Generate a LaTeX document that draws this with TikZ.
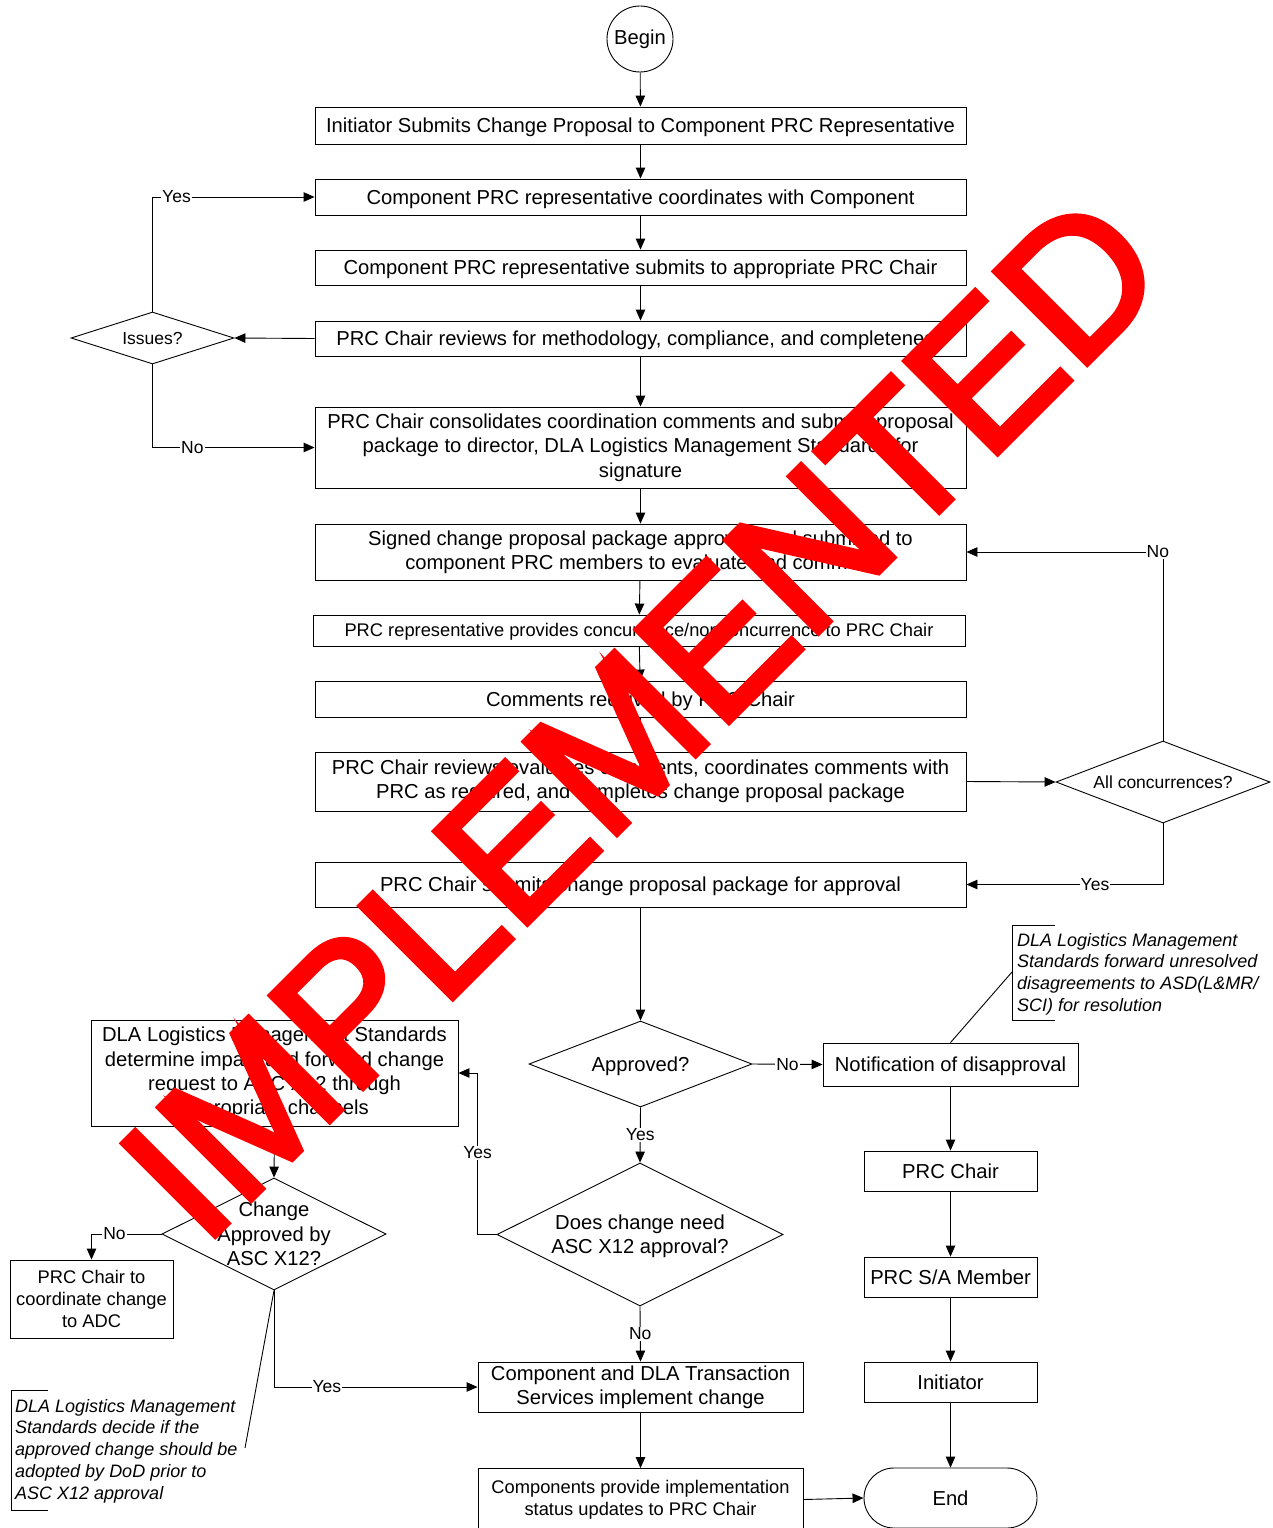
\documentclass[tikz,border=0pt]{standalone}
\usepackage{fontspec}
\setmainfont{Liberation Sans}
\newfontfamily\wmfam{Liberation Sans}[FakeBold=3]
\usetikzlibrary{shapes.geometric,shapes.misc,arrows.meta}
\newcommand\fsMain{\fontsize{20.2}{24.3}\selectfont}
\newcommand\fsSmall{\fontsize{17.5}{21}\selectfont}
\newcommand\fsMid{\fontsize{18.3}{22}\selectfont}
\newcommand\fsNote{\itshape\fontsize{18}{21.7}\selectfont}
\newcommand\fsWM{\wmfam\fontsize{190}{190}\selectfont}
\begin{document}
\begin{tikzpicture}[x=1pt,y=-1pt,
  every node/.style={inner sep=0pt},
  plainbox/.style={draw,line width=0.9pt,align=center,font=\fsMain},
  box/.style={plainbox,execute at begin node={\rule{0pt}{18.7pt}}},
  midbox/.style={plainbox,font=\fsMid},
  dia/.style={draw,shape=diamond,line width=0.9pt,inner sep=0pt},
  ln/.style={line width=0.9pt},
  arr/.style={line width=0.9pt,-{Triangle[length=11pt,width=9.5pt]}},
  lab/.style={fill=white,inner sep=1pt,font=\fsSmall},
]
\fill[white] (0,0) rectangle (1273,1528);
\useasboundingbox (0,0) rectangle (1273,1528);

% main column
\node[draw,circle,line width=0.9pt,minimum size=66pt,font=\fsMain] (begin) at (640,39) {Begin};
\node[box,minimum width=651pt,minimum height=37pt] (b1) at (640.5,125.5) {Initiator Submits Change Proposal to Component PRC Representative};
\node[box,minimum width=651pt,minimum height=36pt] (b2) at (640.5,197) {Component PRC representative coordinates with Component};
\node[box,minimum width=651pt,minimum height=35pt] (b3) at (640.5,267.5) {Component PRC representative submits to appropriate PRC Chair};
\node[box,minimum width=651pt,minimum height=35pt] (b4) at (640.5,338.5) {PRC Chair reviews for methodology, compliance, and completeness};
\node[box,minimum width=651pt,minimum height=81pt] (b5) at (640.5,447.5) {PRC Chair consolidates coordination comments and submits proposal\\package to director, DLA Logistics Management Standards for\\signature};
\node[box,minimum width=651pt,minimum height=56pt] (b6) at (640.5,552) {Signed change proposal package approved and submitted to\\component PRC members to evaluate and comment};
\node[midbox,minimum width=652pt,minimum height=31pt,execute at begin node={\rule{0pt}{15pt}}] (b7) at (639,630.5) {PRC representative provides concurrence/nonconcurrence to PRC Chair};
\node[box,minimum width=651pt,minimum height=36pt] (b8) at (640.5,699) {Comments received by PRC Chair};
\node[box,minimum width=651pt,minimum height=59pt] (b9) at (640.5,781.5) {PRC Chair reviews/evaluates comments, coordinates comments with\\PRC as required, and completes change proposal package};
\node[box,minimum width=651pt,minimum height=45pt] (b10) at (640.5,884.5) {PRC Chair submits change proposal package for approval};

% decisions
\node[dia,minimum width=163pt,minimum height=52pt] (issues) at (152.5,338) {};
\node[font=\fsSmall] (issuesT) at (issues) {Issues?};
\node[dia,minimum width=214pt,minimum height=82pt] (allc) at (1163,782) {};
\node[font=\fsSmall] (allcT) at (allc) {All concurrences?};
\node[dia,minimum width=223pt,minimum height=86pt] (appr) at (640.5,1064) {};
\node[font=\fsMain] (apprT) at (640.5,1066) {Approved?};
\node[dia,minimum width=286pt,minimum height=143pt] (doesch) at (640,1234.5) {};
\node[font=\fsMain,align=center] (doeschT) at (640,1236.5) {Does change need\\ASC X12 approval?};
\node[dia,minimum width=224pt,minimum height=112pt] (chg) at (274,1234) {};
\node[font=\fsMain,align=center] (chgT) at (274,1234) {Change\\Approved by\\ASC X12?};

% lower boxes
\node[box,minimum width=255pt,minimum height=43pt] (notif) at (950.5,1064.5) {Notification of disapproval};
\node[box,minimum width=367pt,minimum height=106pt] (dla) at (274.5,1073) {DLA Logistics Management Standards\\determine impact and forward change\\request to ASC X12 through\\appropriate channels};
\node[midbox,minimum width=163pt,minimum height=78pt] (prcto) at (91.5,1299) {PRC Chair to\\coordinate change\\to ADC};
\node[box,minimum width=325pt,minimum height=50pt] (comp) at (640.5,1387) {Component and DLA Transaction\\Services implement change};
\node[midbox,minimum width=325pt,minimum height=62pt] (prov) at (640.5,1499.5) {Components provide implementation\\status updates to PRC Chair};
\node[plainbox,minimum width=173pt,minimum height=40pt] (prcchair) at (950.5,1171) {PRC Chair};
\node[plainbox,minimum width=173pt,minimum height=40pt] (prcsa) at (950.5,1277) {PRC S/A Member};
\node[plainbox,minimum width=173pt,minimum height=40pt] (init) at (950.5,1382) {Initiator};
\node[draw,rounded rectangle,line width=0.9pt,minimum width=173pt,minimum height=60pt,font=\fsMain] (end) at (950.5,1498) {End};

% annotations
\node[anchor=north west,align=left,font=\fsNote] (n1) at (1017,933) {DLA Logistics Management\\Standards forward unresolved\\disagreements to ASD(L\&MR/\\SCI) for resolution};
\draw[ln] (1055,925) -- (1012,925) -- (1012,1020) -- (1055,1020);
\coordinate (n1a) at (1012,972);
\draw[ln] (notif.north) -- (n1a);
\node[anchor=north west,align=left,font=\fsNote] (n2) at (15,1399) {DLA Logistics Management\\Standards decide if the\\approved change should be\\adopted by DoD prior to\\ASC X12 approval};
\draw[ln] (48,1390) -- (11,1390) -- (11,1510) -- (48,1510);
\coordinate (n2a) at (245,1448);
\draw[ln] (chg.south) -- (n2a);

% connectors
\draw[arr] (begin) -- (b1);
\draw[arr] (b1) -- (b2);
\draw[arr] (b2) -- (b3);
\draw[arr] (b3) -- (b4);
\draw[arr] (b4.west) -- (issues.east);
\draw[arr] (issues.north) |- node[lab,pos=0.574]{Yes} (b2.west);
\draw[arr] (issues.south) |- node[lab,pos=0.623]{No} (b5.west);
\draw[arr] (b4) -- (b5);
\draw[arr] (b5) -- (b6);
\draw[arr] (b6) -- (b7);
\draw[arr] (b7) -- (b8);
\draw[arr] (b8) -- (b9);
\draw[arr] (b9.east) -- (allc.west);
\draw[arr] (allc.north) |- node[lab,pos=0.513]{No} (b6.east);
\draw[arr] (allc.south) |- node[lab,pos=0.673]{Yes} (b10.east);
\draw[arr] (b10) -- (appr.north);
\draw[arr] (appr.east) -- node[lab]{No} (notif.west);
\draw[arr] (appr.south) -- node[lab]{Yes} (doesch.north);
\draw[arr] (doesch.west) -- ++(-19,0) |- node[lab,pos=0.253]{Yes} (dla.east);
\draw[arr] (doesch.south) -- node[lab]{No} (comp.north);
\draw[arr] (dla.south) -- (chg.north);
\draw[arr] (chg.west) -| node[lab,pos=0.336]{No} (prcto.north);
\draw[arr] (chg.south) |- node[lab,pos=0.63]{Yes} (comp.west);
\draw[arr] (comp) -- (prov);
\draw[arr] (prov.east) -- (end.west);
\draw[arr] (notif) -- (prcchair);
\draw[arr] (prcchair) -- (prcsa);
\draw[arr] (prcsa) -- (init);
\draw[arr] (init) -- (end);

% watermark
\node[rotate=45,anchor=base,text=red,font=\fsWM] (wm) at (688,763) {IMPLEMENTED};
\end{tikzpicture}
\end{document}
